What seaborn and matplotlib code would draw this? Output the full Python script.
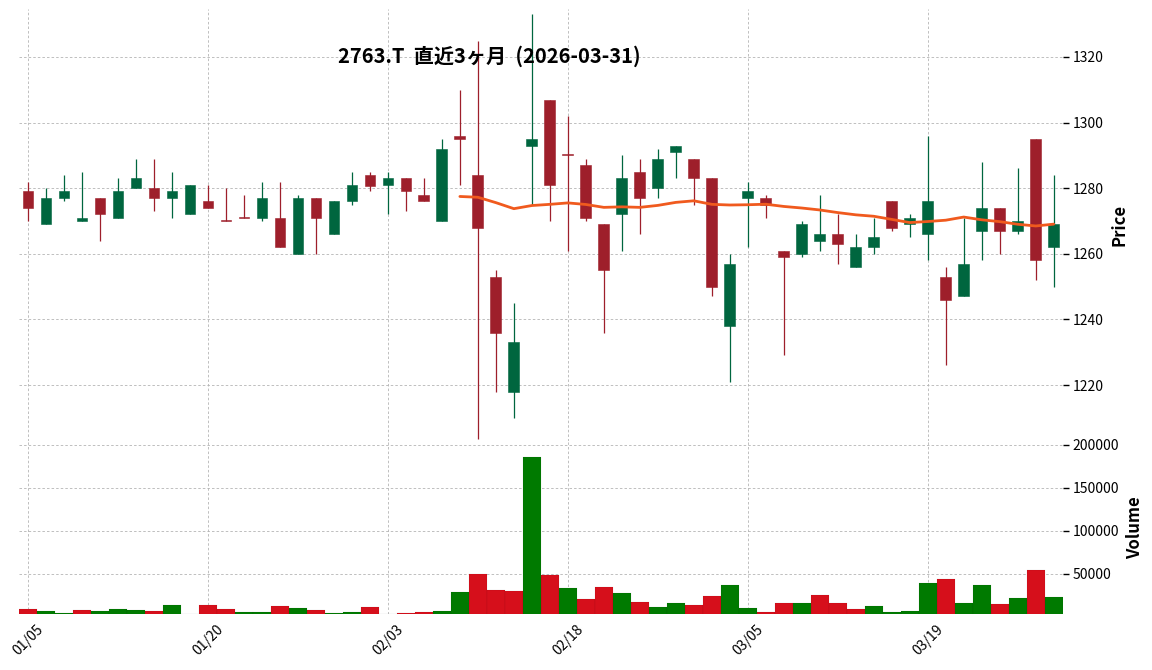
import numpy as np
import pandas as pd
import seaborn as sns
import matplotlib.pyplot as plt

# daily OHLCV, 2763.T, last 3 months
opens = [1279, 1269, 1277, 1270, 1277, 1271, 1280, 1280, 1277, 1272,
         1276, 1270.2, 1271.2, 1271, 1271, 1260, 1277, 1266, 1276, 1284,
         1281, 1283, 1278, 1270, 1296, 1284, 1253, 1218, 1293, 1307,
         1290.2, 1287, 1269, 1272, 1285, 1280, 1291, 1289, 1283, 1238,
         1277, 1277, 1261, 1260, 1264, 1266, 1256, 1262, 1276, 1269,
         1266, 1253, 1247, 1267, 1274, 1267, 1295, 1262]
highs = [1282, 1280, 1284, 1285, 1277, 1283, 1289, 1289, 1285, 1281,
         1281, 1280, 1278, 1282, 1282, 1278, 1277, 1276, 1285, 1285,
         1285, 1283, 1283, 1295, 1310, 1325, 1255, 1245, 1333, 1307,
         1302, 1289, 1269, 1290, 1289, 1292, 1293, 1289, 1283, 1260,
         1282, 1278, 1261, 1270, 1278, 1272, 1266, 1271, 1276, 1272,
         1296, 1256, 1271, 1288, 1274, 1286, 1295, 1284]
lows = [1270, 1269, 1276, 1270, 1264, 1271, 1280, 1273, 1271, 1272,
        1274, 1270, 1271, 1270, 1262, 1260, 1260, 1266, 1275, 1279,
        1272, 1273, 1276, 1270, 1281, 1203.5, 1218, 1210, 1275, 1270,
        1261, 1270, 1236, 1261, 1266, 1277, 1283, 1275, 1247, 1221,
        1262, 1271, 1229, 1259, 1261, 1257, 1256, 1260, 1267, 1265,
        1258, 1226, 1247, 1258, 1260, 1266, 1252, 1250]
closes = [1274, 1277, 1279, 1271, 1272, 1279, 1283, 1277, 1279, 1281,
          1274, 1270, 1271, 1277, 1262, 1277, 1271, 1276, 1281, 1280.8,
          1283, 1279, 1276, 1292, 1295, 1268, 1236, 1233, 1295, 1281,
          1290, 1271, 1255, 1283, 1277, 1289, 1293, 1283, 1250, 1257,
          1279, 1275, 1259, 1269, 1266, 1263, 1262, 1265, 1268, 1271,
          1276, 1246, 1257, 1274, 1267, 1270, 1258, 1269]
volumes = [8500, 6100, 3800, 7300, 6100, 8500, 7300, 6100, 13200, 3000,
           13200, 8500, 5000, 5000, 12000, 9700, 7300, 3800, 5000, 10900,
           3000, 3800, 5000, 6100, 28500, 49600, 30800, 29600, 185800, 48400,
           33200, 20200, 34300, 27300, 16700, 10800, 15500, 13200, 23800, 36700,
           9700, 5000, 15500, 15500, 24900, 15500, 8500, 12000, 5000, 6100,
           39000, 43700, 15500, 36700, 14400, 21400, 54300, 22600]
holidays = ['2026-01-12', '2026-02-11', '2026-02-23', '2026-03-20']

dates = pd.bdate_range('2026-01-05', '2026-03-31')
dates = dates[~dates.isin(pd.to_datetime(holidays))]

df = pd.DataFrame({'Open': opens, 'High': highs, 'Low': lows,
                   'Close': closes, 'Volume': volumes})
df['i'] = np.arange(len(df))
df['MA25'] = df['Close'].rolling(25).mean()
df['vdir'] = np.where(df['Close'] > df['Close'].shift(1), 'up', 'down')

up_c, down_c = '#00663f', '#9e1f2b'
vup_c, vdown_c = '#007a00', '#d60f1b'

sns.set_theme(style='whitegrid')
plt.rcParams['font.family'] = ['Noto Sans CJK JP', 'DejaVu Sans']
for k in ('text.color', 'axes.labelcolor', 'xtick.color', 'ytick.color'):
    plt.rcParams[k] = 'black'

fig = plt.figure(figsize=(11.52, 6.70), dpi=100)
ax = fig.add_axes([0.0165, 0.3421, 0.906, 0.6439])
axv = fig.add_axes([0.0165, 0.0836, 0.906, 0.2582])

# candles
is_up = df['Close'] >= df['Open']
ccol = np.where(is_up, up_c, down_c)
ax.vlines(df['i'], df['Low'], df['High'], colors=ccol, lw=0.9, zorder=2)
body_lo = np.minimum(df['Open'], df['Close'])
body_h = np.maximum((df['Close'] - df['Open']).abs(), 0.35)
ax.bar(df['i'], body_h, bottom=body_lo, width=0.6, color=ccol,
       edgecolor=ccol, linewidth=0.4, zorder=3)

sns.lineplot(data=df, x='i', y='MA25', ax=ax, color='#f05a1e', lw=2, zorder=4)

# volume
sns.barplot(data=df, x='i', y='Volume', hue='vdir', ax=axv, native_scale=True,
            palette={'up': vup_c, 'down': vdown_c}, dodge=False, width=1.0,
            saturation=1, legend=False, linewidth=0.3, edgecolor='#00000022')

ticks = list(range(0, len(df), 10))
labels = [dates[t].strftime('%m/%d') for t in ticks]

for a in (ax, axv):
    a.set_xlim(-0.5, len(df) - 0.5)
    a.set_xticks(ticks)
    a.grid(True, ls=(0, (3, 2.5)), lw=0.6, color='#b4b4b4')
    a.set_facecolor('white')
    for s in a.spines.values():
        s.set_visible(False)
    a.yaxis.tick_right()
    a.yaxis.set_label_position('right')
    a.tick_params(axis='y', length=4, width=1, color='black', labelsize=10, pad=3)
    a.set_xlabel('')

ax.set_ylim(1203, 1334.5)
ax.set_yticks([1220, 1240, 1260, 1280, 1300, 1320])
ax.tick_params(axis='x', labelbottom=False, length=0)
ax.set_ylabel('Price', fontsize=12, fontweight='bold', labelpad=5)

axv.set_ylim(3000, 204400)
axv.set_yticks([50000, 100000, 150000, 200000])
axv.set_yticklabels(['50000', '100000', '150000', '200000'])
axv.set_xticklabels(labels, rotation=45, fontsize=10)
axv.tick_params(axis='x', length=4, width=1, color='black', pad=2)
axv.set_ylabel('Volume', fontsize=12, fontweight='bold', labelpad=5)

fig.text(0.425, 0.916, '2763.T  直近3ヶ月  (2026-03-31)', ha='center',
         va='center', fontsize=14.5, fontweight='bold')

fig.savefig('out.png', dpi=100)
